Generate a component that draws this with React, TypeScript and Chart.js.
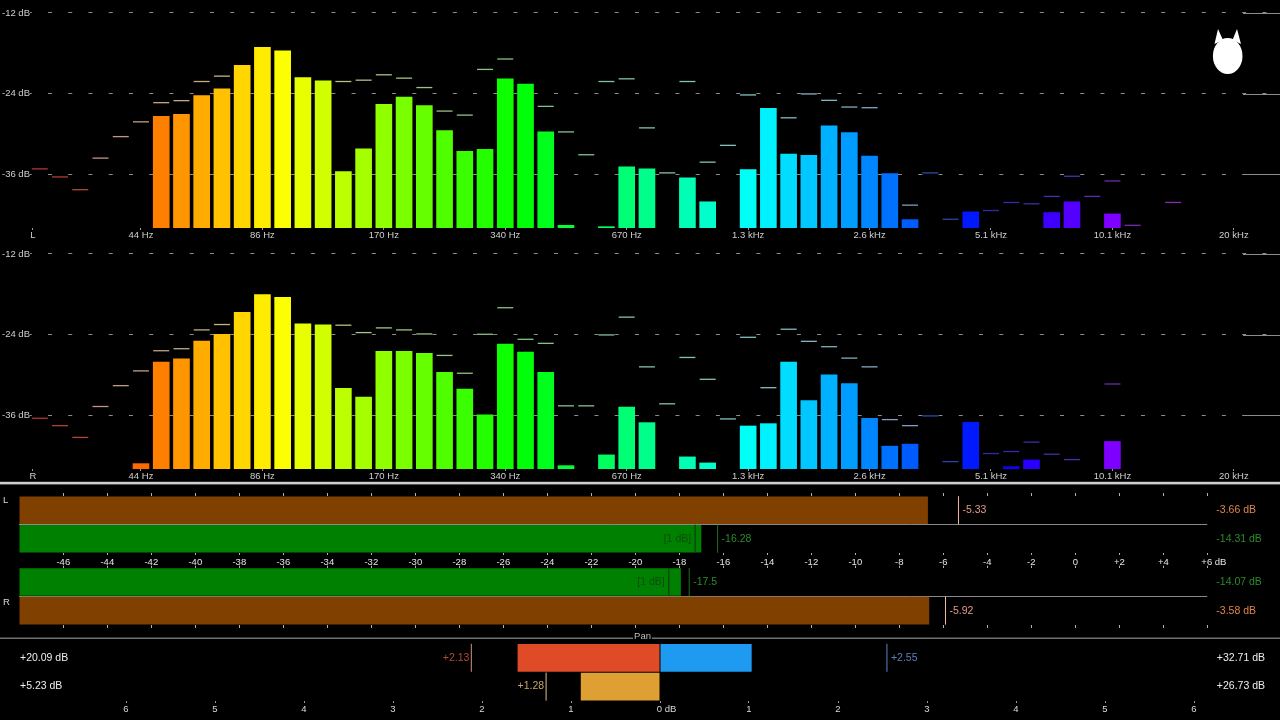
import React, { useEffect, useRef } from 'react';
import { Chart, registerables } from 'chart.js';

Chart.register(...registerables);
const FAMILY = "'Liberation Sans', Arial, Helvetica, sans-serif";
Chart.defaults.font.family = FAMILY;
const font = (s: number) => `${s}px ${FAMILY}`;

// ---------------- Spectrum (sixth-octave bands, dB) ----------------
const SPEC_FLOOR = -44;
const SPEC_TOP = -10.07;
const specGridDb = [-12, -24, -36];
const specGridLabels = ['-12 dB', '-24 dB', '-36 dB'];
const freqTickSlots = [5, 11, 17, 23, 29, 35, 41, 47, 53, 59];
const freqTickLabels = ['44 Hz', '86 Hz', '170 Hz', '340 Hz', '670 Hz', '1.3 kHz', '2.6 kHz', '5.1 kHz', '10.1 kHz', '20 kHz'];
const channelLabelSlot = -0.34;

const leftBars = [
  null, null, null, null, null, null,
  -27.4, -27.1, -24.3, -23.3, -19.8, -17.1,
  -17.65, -21.6, -22.1, -35.6, -32.2, -25.6,
  -24.5, -25.8, -29.5, -32.6, -32.3, -21.8,
  -22.6, -29.7, -43.6, null, -43.8, -34.9,
  -35.2, null, -36.55, -40.1, null, -35.3,
  -26.2, -33.0, -33.2, -28.8, -29.8, -33.3,
  -35.9, -42.75, null, null, -41.6, null,
  null, null, -41.7, -40.1, null, -41.9,
  null, null, null, null, null, null,
];
const leftPeaks = [
  -35.2, -36.4, -38.3, -33.6, -30.4, -28.2,
  -25.35, -25.05, -22.2, -21.4, null, null,
  null, null, null, -22.2, -22.0, -21.2,
  -21.7, -23.1, -26.6, -27.2, -20.4, -18.85,
  null, -25.9, -29.7, -33.1, -22.2, -21.8,
  -29.1, -35.8, -22.2, -34.2, -31.7, -24.2,
  null, -27.6, -24.05, -25.0, -26.0, -26.1,
  null, -40.6, -35.8, -42.7, null, -41.4,
  -40.2, -40.4, -39.3, -36.3, -39.3, -37.0,
  -43.6, null, -40.2, null, null, null,
];
const rightBars = [
  null, null, null, null, null, -43.2,
  -28.1, -27.6, -24.95, -23.95, -20.7, -18.05,
  -18.45, -22.4, -22.55, -32.0, -33.3, -26.5,
  -26.5, -26.8, -29.6, -32.1, -35.95, -25.4,
  -26.6, -29.6, -43.5, null, -41.9, -34.8,
  -37.1, null, -42.2, -43.1, null, -37.6,
  -37.25, -28.1, -33.8, -30.0, -31.3, -36.45,
  -40.6, -40.3, null, null, -37.05, null,
  -43.65, -42.65, null, null, null, -39.9,
  null, null, null, null, null, null,
];
const rightPeaks = [
  -36.45, -37.55, -39.3, -34.7, -31.6, -29.4,
  -26.4, -26.1, -23.3, -22.5, null, null,
  null, null, null, -22.6, -23.7, -23.0,
  -23.3, -23.9, -27.1, -29.75, -23.95, -20.0,
  -24.7, -25.3, -34.6, -34.6, -24.05, -21.4,
  -28.8, -34.3, -27.4, -30.65, -36.55, -24.4,
  -31.9, -23.2, -25.0, -25.8, -27.5, -28.8,
  -36.65, -37.55, -36.1, -42.9, null, -41.7,
  -41.4, -40.0, -41.8, -42.6, null, -31.35,
  null, null, null, null, null, null,
];

// ---------------- Level meters (dB) ----------------
const METER_MIN = -48;
const METER_MAX = 6;
const meterTickValues = [-46, -44, -42, -40, -38, -36, -34, -32, -30, -28, -26, -24, -22, -20, -18, -16, -14, -12, -10, -8, -6, -4, -2, 0, 2, 4, 6];
const meterTickLabels = ['-46', '-44', '-42', '-40', '-38', '-36', '-34', '-32', '-30', '-28', '-26', '-24', '-22', '-20', '-18', '-16', '-14', '-12', '-10', '-8', '-6', '-4', '-2', '0', '+2', '+4', '     +6 dB'];

const leftMeterRows = ['peak', 'rms'];
const leftLevels = [-6.7, -17.0];
const leftHolds = [-5.31, -16.26];
const leftHoldTexts = ['-5.33', '-16.28'];
const leftWindow = [-17.28];
const leftTotals = ['-3.66 dB', '-14.31 dB'];

const rightMeterRows = ['rms', 'peak'];
const rightLevels = [-17.93, -6.64];
const rightHolds = [-17.55, -5.9];
const rightHoldTexts = ['-17.5', '-5.92'];
const rightWindow = [-18.48];
const rightTotals = ['-14.07 dB', '-3.58 dB'];

// ---------------- Pan ----------------
const panRows = ['upper', 'lower'];
const panLeft = [-1.6, -0.89];
const panRight = [1.03, null];
const panHoldRows = ['upper', 'lower', 'upper'];
const panHolds = [-2.12, -1.28, 2.55];
const panHoldTexts = ['+2.13', '+1.28', '+2.55'];
const panLeftTotals = ['+20.09 dB', '+5.23 dB'];
const panRightTotals = ['+32.71 dB', '+26.73 dB'];
const panTickValues = [-6, -5, -4, -3, -2, -1, 0, 1, 2, 3, 4, 5, 6];
const panTickLabels = ['6', '5', '4', '3', '2', '1', '     0 dB', '1', '2', '3', '4', '5', '6'];

// ---------------- colours ----------------
const BROWN = '#7f4000';
const GREEN = '#008000';
const ORANGE_TXT = '#e0844c';
const GREEN_TXT = '#2b8a2b';

const bandHue = (i: number) => (((30 + 5.1 * (i - 6)) % 360) + 360) % 360;
const barColor = (i: number) => `hsl(${bandHue(i)}, 100%, 50%)`;
const markColor = (i: number) => {
  if (i <= 2) return `hsl(${bandHue(i)}, 55%, 45%)`;
  if (i >= 44) return `hsl(${bandHue(i)}, 60%, 42%)`;
  return `hsl(${bandHue(i)}, 35%, 64%)`;
};

const NOEV: any = [];
// force an axis to a fixed size with no extra label overhang padding
const fixSize = (w: number | null, h: number | null) => (s: any) => {
  if (w !== null) s.width = w;
  if (h !== null) s.height = h;
  s.paddingLeft = 0; s.paddingRight = 0; s.paddingTop = 0; s.paddingBottom = 0;
};

function SpectrumPanel({ top, bars, peaks, channel, logo }: any) {
  const ref = useRef<HTMLCanvasElement>(null);
  useEffect(() => {
    const barData: any[] = [];
    bars.forEach((v: number | null, i: number) => { if (v !== null) barData.push({ x: i, y: [SPEC_FLOOR, v] }); });
    const peakData: any[] = [];
    peaks.forEach((v: number | null, i: number) => { if (v !== null) peakData.push({ x: i, y: v }); });
    const tickSlots = [channelLabelSlot, ...freqTickSlots];
    const tickLabels = [channel, ...freqTickLabels];
    const decoPlugin = {
      id: 'deco',
      beforeDatasetsDraw(chart: any) {
        // solid tail of the grid lines at the right edge
        const c = chart.ctx;
        const ys = chart.scales.y;
        c.save();
        c.strokeStyle = '#8c8c8c'; c.lineWidth = 1;
        specGridDb.forEach((v) => {
          const y = Math.round(ys.getPixelForValue(v)) + 0.5;
          c.beginPath(); c.moveTo(1243, y); c.lineTo(1280, y); c.stroke();
        });
        c.restore();
      },
      afterDraw(chart: any) {
        if (!logo) return;
        const c = chart.ctx;
        c.save();
        c.fillStyle = '#ffffff';
        c.beginPath(); c.ellipse(1227.7, 56, 14.8, 18, 0, 0, Math.PI * 2); c.fill();
        c.beginPath(); c.moveTo(1214.5, 44); c.lineTo(1218, 29); c.lineTo(1223, 40); c.closePath(); c.fill();
        c.beginPath(); c.moveTo(1232.5, 40); c.lineTo(1237, 29); c.lineTo(1241, 44); c.closePath(); c.fill();
        c.restore();
      },
    };
    const chart = new Chart(ref.current as HTMLCanvasElement, {
      type: 'bar',
      data: {
        datasets: [
          {
            type: 'bar', data: barData, barThickness: 16, borderWidth: 0, grouped: false, order: 2,
            backgroundColor: (ctx: any) => (ctx.raw ? barColor(ctx.raw.x) : '#fff'),
          } as any,
          {
            type: 'line', data: peakData, showLine: false, pointStyle: 'line', pointRadius: 8, pointHoverRadius: 8,
            pointBorderWidth: 1.3, order: 1,
            pointBorderColor: (ctx: any) => (ctx.raw ? markColor(ctx.raw.x) : '#888'),
          } as any,
        ],
      },
      options: {
        animation: false, responsive: false, events: NOEV,
        layout: { autoPadding: false, padding: { left: 2, right: 0, top: 0, bottom: 0 } },
        plugins: { legend: { display: false }, tooltip: { enabled: false } },
        scales: {
          x: {
            type: 'linear', min: -0.484, max: 61.28, offset: false,
            afterBuildTicks: (s: any) => { s.ticks = tickSlots.map((v) => ({ value: v })); },
            afterFit: fixSize(null, 13),
            ticks: { autoSkip: false, maxRotation: 0, padding: 0, color: '#cfcfcf', font: { size: 9.5 }, callback: (_v: any, i: number) => tickLabels[i] },
            grid: { display: true, drawOnChartArea: false, drawTicks: true, tickLength: 2, color: '#9a9a9a', offset: false },
            border: { display: false },
          },
          y: {
            type: 'linear', min: SPEC_FLOOR, max: SPEC_TOP,
            afterBuildTicks: (s: any) => { s.ticks = specGridDb.map((v) => ({ value: v })); },
            afterFit: fixSize(28, null),
            ticks: { crossAlign: 'far', padding: 0, color: '#cfcfcf', font: { size: 9.5 }, callback: (_v: any, i: number) => specGridLabels[i] },
            grid: { color: '#8c8c8c', lineWidth: 1, drawTicks: false },
            border: { display: false, dash: [4, 16.24], dashOffset: 2.24 },
          },
        },
      } as any,
      plugins: [decoPlugin],
    });
    return () => chart.destroy();
  }, []);
  return <canvas ref={ref} width={1280} height={241} style={{ position: 'absolute', left: 0, top, display: 'block' }} />;
}

function MeterPanel({ top, height, rows, levels, holds, holdTexts, windowMarks, totals, channel, channelY, showLabels, separator }: any) {
  const ref = useRef<HTMLCanvasElement>(null);
  useEffect(() => {
    const levelColors = rows.map((r: string) => (r === 'peak' ? BROWN : GREEN));
    const holdColors = rows.map((r: string) => (r === 'peak' ? '#f2b6a6' : '#1f6f1f'));
    const holdTextColors = rows.map((r: string) => (r === 'peak' ? '#e39a84' : GREEN_TXT));
    const totalColors = rows.map((r: string) => (r === 'peak' ? ORANGE_TXT : GREEN_TXT));
    const tickScale = (pos: string, h: number, labels: boolean, tl: number) => ({
      type: 'linear', position: pos, min: METER_MIN, max: METER_MAX, offset: false,
      afterBuildTicks: (s: any) => { s.ticks = meterTickValues.map((v) => ({ value: v })); },
      afterFit: fixSize(null, h),
      ticks: { display: labels, autoSkip: false, maxRotation: 0, padding: 2, color: '#e6e6e6', font: { size: 9.5 }, callback: (_v: any, i: number) => meterTickLabels[i] },
      grid: { display: true, drawOnChartArea: false, drawTicks: true, tickLength: tl, color: '#b0b0b0', offset: false },
      border: { display: false },
    });
    const scales: any = {
      x: showLabels ? tickScale('bottom', 14, true, 2) : tickScale('bottom', 10, false, 3),
      xTop: showLabels ? tickScale('top', 15, false, 3) : tickScale('top', 4.7, false, 2),
      y: {
        type: 'category', offset: true, afterFit: fixSize(0, null),
        ticks: { display: false },
        grid: { offset: true, drawTicks: false, color: (ctx: any) => (ctx.index === 1 ? '#8a8a8a' : 'rgba(0,0,0,0)') },
        border: { display: false },
      },
      yRight: {
        type: 'category', position: 'right', labels: totals, offset: true,
        afterFit: fixSize(72.7, null),
        grid: { display: false, drawTicks: false, tickLength: 0 }, border: { display: false },
        ticks: { crossAlign: 'near', padding: 9, font: { size: 10.5 }, color: (ctx: any) => totalColors[ctx.index] },
      },
    };
    const textPlugin = {
      id: 'meterText',
      beforeDraw(chart: any) {
        if (!separator) return;
        const c = chart.ctx;
        c.save(); c.fillStyle = '#cfcfcf'; c.fillRect(0, 0.8, 1280, 2.6); c.restore();
      },
      afterDatasetsDraw(chart: any) {
        const c = chart.ctx;
        c.save();
        c.textBaseline = 'middle';
        c.font = font(10.5);
        chart.getDatasetMeta(1).data.forEach((el: any, i: number) => {
          c.fillStyle = holdTextColors[i]; c.textAlign = 'left';
          c.fillText(holdTexts[i], el.x + 4, el.y);
        });
        chart.getDatasetMeta(2).data.forEach((el: any) => {
          c.fillStyle = '#0c4e0c'; c.textAlign = 'right';
          c.fillText('[1 dB]', el.x - 4, el.y);
        });
        c.font = font(9.5); c.fillStyle = '#d8d8d8'; c.textAlign = 'left';
        c.fillText(channel, 3, channelY);
        c.restore();
      },
    };
    const chart = new Chart(ref.current as HTMLCanvasElement, {
      type: 'bar',
      data: {
        labels: rows,
        datasets: [
          {
            type: 'bar', data: levels.map((v: number) => [METER_MIN, v]), backgroundColor: levelColors,
            borderWidth: 0, grouped: false, categoryPercentage: 1, barPercentage: 0.965, xAxisID: 'x', yAxisID: 'y', order: 2,
          } as any,
          {
            type: 'line', data: holds.map((v: number, i: number) => ({ x: v, y: rows[i] })), showLine: false,
            pointStyle: 'line', pointRotation: 90, pointRadius: 14, pointHoverRadius: 14, pointBorderWidth: 1,
            pointBorderColor: holdColors, xAxisID: 'x', yAxisID: 'y', order: 0,
          } as any,
          {
            type: 'line', data: windowMarks.map((v: number) => ({ x: v, y: 'rms' })), showLine: false,
            pointStyle: 'line', pointRotation: 90, pointRadius: 14, pointHoverRadius: 14, pointBorderWidth: 1.5,
            pointBorderColor: '#0b4a0b', xAxisID: 'x', yAxisID: 'y', order: 1,
          } as any,
        ],
      },
      options: {
        animation: false, responsive: false, events: NOEV, indexAxis: 'y',
        layout: { autoPadding: false, padding: { left: 19.3, right: 0, top: 0, bottom: 0 } },
        plugins: { legend: { display: false }, tooltip: { enabled: false } },
        scales,
      } as any,
      plugins: [textPlugin],
    });
    return () => chart.destroy();
  }, []);
  return <canvas ref={ref} width={1280} height={height} style={{ position: 'absolute', left: 0, top, display: 'block' }} />;
}

function PanPanel() {
  const ref = useRef<HTMLCanvasElement>(null);
  useEffect(() => {
    const PAN_MIN = (100 - 660) / 89;
    const PAN_MAX = (1205 - 660) / 89;
    const holdColors = ['#d8907c', '#e2c28e', '#5b86c0'];
    const holdTextColors = ['#b04a32', '#c9a46a', '#5a80b4'];
    const panPlugin = {
      id: 'panDeco',
      beforeDraw(chart: any) {
        const c = chart.ctx;
        const tb = chart.titleBlock;
        const cx = tb ? (tb.left + tb.right) / 2 : 642;
        c.save();
        c.font = font(9.5);
        const w = c.measureText('Pan').width / 2 + 1;
        c.strokeStyle = '#707070'; c.lineWidth = 1.4;
        c.beginPath(); c.moveTo(0, 8.3); c.lineTo(cx - w, 8.3); c.moveTo(cx + w, 8.3); c.lineTo(1280, 8.3); c.stroke();
        c.restore();
      },
      afterDatasetsDraw(chart: any) {
        const c = chart.ctx;
        c.save();
        c.textBaseline = 'middle';
        c.font = font(10.5);
        chart.getDatasetMeta(2).data.forEach((el: any, i: number) => {
          c.fillStyle = holdTextColors[i];
          if (panHolds[i] < 0) { c.textAlign = 'right'; c.fillText(panHoldTexts[i], el.x - 2, el.y); }
          else { c.textAlign = 'left'; c.fillText(panHoldTexts[i], el.x + 4, el.y); }
        });
        c.restore();
      },
    };
    const chart = new Chart(ref.current as HTMLCanvasElement, {
      type: 'bar',
      data: {
        labels: panRows,
        datasets: [
          {
            type: 'bar', data: panLeft.map((v) => [v, 0]), backgroundColor: ['#df4b27', '#dea032'],
            borderWidth: 0, grouped: false, categoryPercentage: 1, barPercentage: 0.965, xAxisID: 'x', yAxisID: 'y', order: 2,
          } as any,
          {
            type: 'bar', data: panRight.map((v) => (v === null ? null : [0, v])), backgroundColor: '#1e9bf0',
            borderWidth: 0, grouped: false, categoryPercentage: 1, barPercentage: 0.965, xAxisID: 'x', yAxisID: 'y', order: 2,
          } as any,
          {
            type: 'line', data: panHolds.map((v, i) => ({ x: v, y: panHoldRows[i] })), showLine: false,
            pointStyle: 'line', pointRotation: 90, pointRadius: 14, pointHoverRadius: 14, pointBorderWidth: 1,
            pointBorderColor: holdColors, xAxisID: 'x', yAxisID: 'y', order: 0,
          } as any,
        ],
      },
      options: {
        animation: false, responsive: false, events: NOEV, indexAxis: 'y',
        layout: { autoPadding: false, padding: { left: 20, right: 15, top: 0, bottom: 0 } },
        plugins: {
          legend: { display: false }, tooltip: { enabled: false },
          title: { display: true, text: 'Pan', color: '#bdbdbd', font: { size: 9.5, weight: 'normal' }, padding: { top: 1, bottom: 1 } },
        },
        scales: {
          x: {
            type: 'linear', min: PAN_MIN, max: PAN_MAX, offset: false,
            afterBuildTicks: (s: any) => { s.ticks = panTickValues.map((v) => ({ value: v })); },
            afterFit: fixSize(null, 19),
            ticks: { autoSkip: false, maxRotation: 0, padding: 1, color: '#dadada', font: { size: 9.5 }, callback: (_v: any, i: number) => panTickLabels[i] },
            grid: { display: true, drawOnChartArea: false, drawTicks: true, tickLength: 2, color: '#9a9a9a', offset: false },
            border: { display: false },
          },
          y: { type: 'category', offset: true, display: false },
          yL: {
            type: 'category', position: 'left', labels: panLeftTotals, offset: true,
            afterFit: fixSize(80, null),
            grid: { display: false }, border: { display: false },
            ticks: { crossAlign: 'far', padding: 0, color: '#eeeeee', font: { size: 10.5 } },
          },
          yR: {
            type: 'category', position: 'right', labels: panRightTotals, offset: true,
            afterFit: fixSize(60, null),
            grid: { display: false }, border: { display: false },
            ticks: { crossAlign: 'far', padding: 0, color: '#eeeeee', font: { size: 10.5 } },
          },
        },
      } as any,
      plugins: [panPlugin],
    });
    return () => chart.destroy();
  }, []);
  return <canvas ref={ref} width={1280} height={90} style={{ position: 'absolute', left: 0, top: 630, display: 'block' }} />;
}

export default function App() {
  return (
    <div style={{ position: 'fixed', left: 0, top: 0, width: 1280, height: 720, background: '#000', overflow: 'hidden' }}>
      <SpectrumPanel top={0} bars={leftBars} peaks={leftPeaks} channel="L" logo />
      <SpectrumPanel top={241} bars={rightBars} peaks={rightPeaks} channel="R" />
      <MeterPanel top={481} height={86} rows={leftMeterRows} levels={leftLevels} holds={leftHolds} holdTexts={leftHoldTexts}
        windowMarks={leftWindow} totals={leftTotals} channel="L" channelY={19} showLabels separator />
      <MeterPanel top={563} height={72} rows={rightMeterRows} levels={rightLevels} holds={rightHolds} holdTexts={rightHoldTexts}
        windowMarks={rightWindow} totals={rightTotals} channel="R" channelY={39} showLabels={false} separator={false} />
      <PanPanel />
    </div>
  );
}
